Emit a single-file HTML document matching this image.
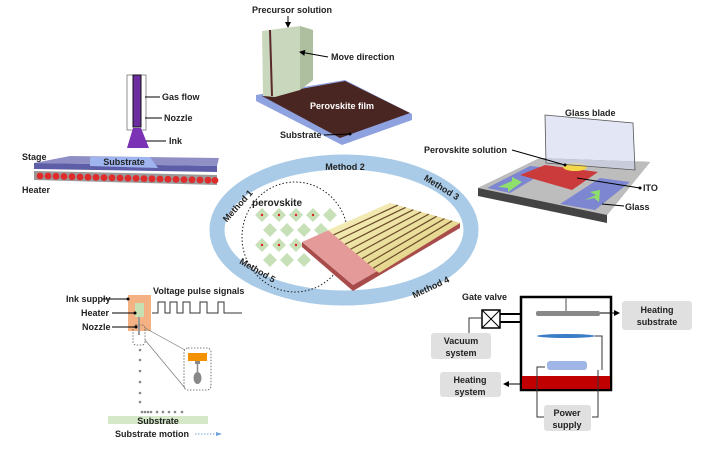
<!DOCTYPE html>
<html><head><meta charset="utf-8"><style>
html,body{margin:0;padding:0;background:#fff}
svg{display:block}
text{font-family:"Liberation Sans",sans-serif;font-weight:bold;font-size:9px;fill:#222}
</style></head><body>
<svg width="712" height="450" viewBox="0 0 712 450" xmlns="http://www.w3.org/2000/svg">
<defs>
<marker id="dot" markerWidth="4" markerHeight="4" refX="2" refY="2"><circle cx="2" cy="2" r="1.5" fill="#000"/></marker>
<marker id="ar" markerWidth="6" markerHeight="6" refX="5" refY="3" orient="auto"><path d="M0,0L6,3L0,6z" fill="#000"/></marker>
<linearGradient id="gold" x1="0" y1="0" x2="1" y2="1"><stop offset="0" stop-color="#f8f3c4"/><stop offset="1" stop-color="#dccb75"/></linearGradient>
</defs>

<!-- ===== Top-left: spray ===== -->
<polygon points="34,171 217,175 217,185 34,180" fill="#9a9a9a"/>
<g fill="#e02b2b">
<circle cx="40" cy="176" r="3.4"/><circle cx="48" cy="176" r="3.4"/><circle cx="56" cy="176.3" r="3.4"/><circle cx="64" cy="176.5" r="3.4"/><circle cx="72" cy="176.7" r="3.4"/><circle cx="80" cy="177" r="3.4"/><circle cx="88" cy="177.2" r="3.4"/><circle cx="96" cy="177.4" r="3.4"/><circle cx="104" cy="177.6" r="3.4"/><circle cx="112" cy="177.8" r="3.4"/><circle cx="120" cy="178" r="3.4"/><circle cx="128" cy="178.2" r="3.4"/><circle cx="136" cy="178.4" r="3.4"/><circle cx="144" cy="178.6" r="3.4"/><circle cx="152" cy="178.8" r="3.4"/><circle cx="160" cy="179" r="3.4"/><circle cx="168" cy="179.2" r="3.4"/><circle cx="176" cy="179.4" r="3.4"/><circle cx="184" cy="179.6" r="3.4"/><circle cx="192" cy="179.8" r="3.4"/><circle cx="200" cy="180" r="3.4"/><circle cx="208" cy="180.2" r="3.4"/><circle cx="215" cy="180.4" r="3.4"/>
</g>
<polygon points="34,163 70,156 219,158 217,166" fill="#8f8fc6"/>
<polygon points="34,163 217,166 217,172 34,169" fill="#5e5ea8"/>
<polygon points="90,157 150,157 158,168 90,166" fill="#9fb5f0"/>
<text x="124" y="165" text-anchor="middle">Substrate</text>
<rect x="127" y="75" width="19" height="55" fill="none" stroke="#777" stroke-width="0.8"/>
<rect x="133" y="75" width="8" height="52" fill="#6a2ea0" stroke="#111" stroke-width="1"/>
<polygon points="133,128 141,128 149,148 127,148" fill="#7b32b5"/>
<line x1="145" y1="97" x2="160" y2="97" stroke="#000"/><text x="162" y="100">Gas flow</text>
<line x1="145" y1="118" x2="162" y2="118" stroke="#000"/><text x="164" y="121">Nozzle</text>
<line x1="146" y1="141" x2="166" y2="141" stroke="#000"/><text x="169" y="144">Ink</text>
<text x="22" y="160">Stage</text>
<text x="22" y="193">Heater</text>

<!-- ===== Top-middle: blade coating ===== -->
<polygon points="256,95 345,80 412,114 412,120 342,145 256,101" fill="#8fa2e0"/>
<polygon points="262,96 345,81 410,113 340,138" fill="#4a2622"/>
<polygon points="262,31 300,26 313,30 313,80 300,90 275,97 263,96" fill="#c9d8bd"/>
<polygon points="300,26 313,30 313,80 300,90" fill="#aebf9f"/>
<line x1="270" y1="30" x2="272" y2="96" stroke="#5a2a2a" stroke-width="2"/>
<text x="252" y="13">Precursor solution</text>
<line x1="288" y1="16" x2="288" y2="27" stroke="#000" marker-end="url(#ar)"/>
<line x1="328" y1="57" x2="300" y2="52" stroke="#000" marker-end="url(#ar)"/>
<text x="331" y="60">Move direction</text>
<text x="310" y="109" style="fill:#fff">Perovskite film</text>
<text x="280" y="138">Substrate</text>
<line x1="324" y1="135" x2="350" y2="134" stroke="#000" marker-end="url(#dot)"/>

<!-- ===== Top-right: glass blade ===== -->
<polygon points="478,188 540,158 650,162 607,215 607,223 478,196" fill="#444"/>
<polygon points="478,188 540,158 650,162 607,215" fill="#bdbdbd"/>
<polygon points="487,188 530,166 552,168 510,193" fill="#7d86d0"/>
<polygon points="560,204 600,178 630,182 595,210" fill="#7d86d0"/>
<polygon points="520,175 545,165 598,172 572,190" fill="#cc3b3b"/>
<ellipse cx="575" cy="167" rx="12" ry="4" fill="#f5d84a"/>
<polygon points="545,115 633,123 635,170 546,163" fill="#cfd6ee" fill-opacity="0.6" stroke="#555" stroke-width="0.8"/>
<polygon points="498,187 512,181 512,177 522,182 508,192 508,188" fill="#8fe06a"/>
<polygon points="585,200 596,195 590,192 600,190 599,202 594,198" fill="#8fe06a"/>
<text x="565" y="116">Glass blade</text>
<text x="424" y="153">Perovskite solution</text>
<line x1="512" y1="150" x2="565" y2="165" stroke="#000" marker-end="url(#dot)"/>
<line x1="640" y1="188" x2="577" y2="178" stroke="#000" marker-start="url(#dot)"/>
<text x="643" y="191">ITO</text>
<line x1="624" y1="206" x2="602" y2="204" stroke="#000"/>
<text x="625" y="210">Glass</text>

<!-- ===== Center ring ===== -->
<ellipse cx="344" cy="230" rx="127" ry="68" fill="none" stroke="#a9cbe8" stroke-width="15"/>
<text x="345" y="170" text-anchor="middle">Method 2</text>
<text transform="translate(240,208) rotate(-48)" text-anchor="middle">Method 1</text>
<text transform="translate(440,190) rotate(32)" text-anchor="middle">Method 3</text>
<text transform="translate(256,273) rotate(30)" text-anchor="middle">Method 5</text>
<text transform="translate(432,290) rotate(-25)" text-anchor="middle">Method 4</text>

<!-- perovskite lattice -->
<g fill="#b9d8a6" fill-opacity="0.8">
<polygon points="255,215 262,208 269,215 262,222"/><polygon points="272,215 279,208 286,215 279,222"/><polygon points="289,215 296,208 303,215 296,222"/><polygon points="306,215 313,208 320,215 313,222"/><polygon points="323,215 330,208 337,215 330,222"/>
<polygon points="263,230 270,223 277,230 270,237"/><polygon points="280,230 287,223 294,230 287,237"/><polygon points="297,230 304,223 311,230 304,237"/><polygon points="314,230 321,223 328,230 321,237"/>
<polygon points="255,245 262,238 269,245 262,252"/><polygon points="272,245 279,238 286,245 279,252"/><polygon points="289,245 296,238 303,245 296,252"/><polygon points="306,245 313,238 320,245 313,252"/>
<polygon points="263,260 270,253 277,260 270,267"/><polygon points="280,260 287,253 294,260 287,267"/><polygon points="297,260 304,253 311,260 304,267"/>
</g>
<g fill="#d22">
<circle cx="262" cy="215" r="1.2"/><circle cx="279" cy="215" r="1.2"/><circle cx="296" cy="215" r="1.2"/><circle cx="313" cy="215" r="1.2"/><circle cx="262" cy="245" r="1.2"/><circle cx="279" cy="245" r="1.2"/><circle cx="296" cy="245" r="1.2"/>
</g>
<ellipse cx="295" cy="237" rx="53" ry="55" fill="none" stroke="#222" stroke-width="1" stroke-dasharray="1.5,2"/>
<text x="252" y="206" style="font-size:10px">perovskite</text>

<!-- device -->
<polygon points="302,242 353,285 460,223 460,228 353,291 302,247" fill="#a84b4b"/>
<polygon points="302,242 390,203 460,223 353,285" fill="#e59a9a"/>
<polygon points="328,230 390,203 460,223 379,273" fill="url(#gold)"/>
<g stroke="#6b4a2a" stroke-width="1.2">
<line x1="333.7" y1="234.8" x2="397.8" y2="205.2"/>
<line x1="339.3" y1="239.5" x2="405.6" y2="207.4"/>
<line x1="345" y1="244.3" x2="413.3" y2="209.7"/>
<line x1="350.7" y1="249.1" x2="421.1" y2="211.9"/>
<line x1="356.4" y1="253.9" x2="428.9" y2="214.1"/>
<line x1="362" y1="258.7" x2="436.7" y2="216.3"/>
<line x1="367.7" y1="263.5" x2="444.5" y2="218.6"/>
<line x1="373.3" y1="268.2" x2="452.2" y2="220.8"/>
</g>

<!-- ===== Bottom-left inkjet ===== -->
<rect x="128" y="295" width="23" height="36" fill="#f4b183"/>
<rect x="135" y="303" width="9" height="14" fill="#c6e0b4"/>
<line x1="139" y1="317" x2="139" y2="335" stroke="#999" stroke-width="2"/>
<rect x="133" y="325" width="12" height="20" rx="3" fill="none" stroke="#555" stroke-dasharray="1.5,1.5" stroke-width="0.8"/>
<line x1="102" y1="299" x2="128" y2="299" stroke="#000" marker-end="url(#dot)"/>
<line x1="112" y1="313" x2="135" y2="313" stroke="#000" marker-end="url(#dot)"/>
<line x1="112" y1="327" x2="136" y2="327" stroke="#000" marker-end="url(#dot)"/>
<text x="66" y="302">Ink supply</text>
<text x="81" y="316">Heater</text>
<text x="82" y="330">Nozzle</text>
<text x="153" y="294">Voltage pulse signals</text>
<polyline points="152,313 158,313 158,302 165,302 165,313 170,313 170,302 177,302 177,313 183,313 183,302 190,302 190,313 200,313 200,302 207,302 207,313 218,313 218,302 224,302 224,313 242,313" fill="none" stroke="#333" stroke-width="1"/>
<line x1="145" y1="328" x2="185" y2="350" stroke="#777" stroke-width="0.7"/>
<line x1="145" y1="340" x2="185" y2="388" stroke="#777" stroke-width="0.7"/>
<rect x="184" y="348" width="27" height="42" rx="4" fill="none" stroke="#555" stroke-dasharray="1.5,1.5" stroke-width="0.8"/>
<rect x="188" y="353" width="19" height="8" fill="#f39200"/>
<path d="M195,361h5v3h-5z" fill="#888"/>
<ellipse cx="197.5" cy="378" rx="4" ry="6" fill="#888"/>
<line x1="197.5" y1="364" x2="197.5" y2="372" stroke="#888" stroke-width="1.5"/>
<g fill="#888">
<circle cx="140" cy="350" r="1.3"/><circle cx="140" cy="360" r="1.3"/><circle cx="140" cy="371" r="1.3"/><circle cx="140" cy="382" r="1.3"/><circle cx="140" cy="393" r="1.3"/><circle cx="140" cy="402" r="1.3"/>
<circle cx="142" cy="412" r="1.3"/><circle cx="145" cy="412" r="1.3"/><circle cx="148" cy="412" r="1.3"/><circle cx="151" cy="412" r="1.3"/><circle cx="157" cy="412" r="1.3"/><circle cx="163" cy="412" r="1.3"/><circle cx="169" cy="412" r="1.3"/><circle cx="175" cy="412" r="1.3"/><circle cx="182" cy="412" r="1.3"/>
</g>
<rect x="108" y="416" width="100" height="8" fill="#d5e8c8"/>
<text x="158" y="424" text-anchor="middle">Substrate</text>
<text x="115" y="437">Substrate motion</text>
<line x1="195" y1="434" x2="217" y2="434" stroke="#6fa0d8" stroke-dasharray="1.5,1.5"/>
<polygon points="216,432 222,434 216,436" fill="#6fa0d8"/>

<!-- ===== Bottom-right chamber ===== -->
<rect x="521" y="297" width="90" height="93" fill="none" stroke="#000" stroke-width="2.5"/>
<rect x="522" y="376" width="88" height="13" fill="#c00000"/>
<line x1="566" y1="298" x2="566" y2="311" stroke="#888" stroke-width="1.5"/>
<rect x="536" y="311" width="64" height="5" rx="2" fill="#888"/>
<ellipse cx="566" cy="336" rx="29" ry="2" fill="#3a7cc6"/>
<rect x="547" y="361" width="40" height="9" rx="3" fill="#9fb6e6"/>
<polyline points="595,336 602,336 602,370" fill="none" stroke="#333"/>
<polyline points="545,367 537,367 537,417 546,417" fill="none" stroke="#333"/>
<polyline points="592,417 598,417 598,370" fill="none" stroke="#333"/>
<text x="462" y="300">Gate valve</text>
<rect x="482" y="310" width="18" height="18" fill="#fff" stroke="#000" stroke-width="1.5"/>
<line x1="482" y1="310" x2="500" y2="328" stroke="#000"/><line x1="500" y1="310" x2="482" y2="328" stroke="#000"/>
<line x1="500" y1="314" x2="521" y2="314" stroke="#000" stroke-width="2"/>
<line x1="500" y1="322" x2="521" y2="322" stroke="#000" stroke-width="2"/>
<polyline points="482,318 469,318 469,333" fill="none" stroke="#333"/>
<line x1="600" y1="313" x2="619" y2="313" stroke="#000" marker-end="url(#ar)"/>
<line x1="520" y1="384" x2="504" y2="384" stroke="#000" marker-end="url(#ar)"/>
<rect x="622" y="301" width="70" height="29" rx="3" fill="#e0e0e0"/>
<text x="657" y="313" text-anchor="middle">Heating</text><text x="657" y="325" text-anchor="middle">substrate</text>
<rect x="431" y="333" width="60" height="26" rx="3" fill="#e0e0e0"/>
<text x="461" y="344" text-anchor="middle">Vacuum</text><text x="461" y="356" text-anchor="middle">system</text>
<rect x="440" y="372" width="61" height="25" rx="3" fill="#e0e0e0"/>
<text x="470" y="383" text-anchor="middle">Heating</text><text x="470" y="395" text-anchor="middle">system</text>
<rect x="544" y="405" width="47" height="26" rx="3" fill="#e0e0e0"/>
<text x="567" y="416" text-anchor="middle">Power</text><text x="567" y="428" text-anchor="middle">supply</text>
</svg>
</body></html>
